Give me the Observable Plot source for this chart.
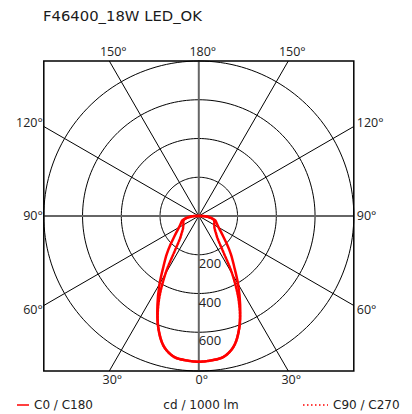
<!DOCTYPE html>
<html><head><meta charset="utf-8">
<script src="https://cdn.jsdelivr.net/npm/d3@7"></script>
<script src="https://cdn.jsdelivr.net/npm/@observablehq/plot@0.6"></script>
<style>
body{margin:0;background:#fff;}
#wrap{position:relative;width:412px;height:414px;font-family:"Open Sans",sans-serif;color:#222;}
#chart{position:absolute;left:0;top:0;}
#title{position:absolute;left:43px;top:8px;font-family:"DejaVu Sans",sans-serif;font-size:14.8px;line-height:15px;white-space:nowrap;color:#1a1a1a;}
.leg{position:absolute;top:398px;font-family:"DejaVu Sans",sans-serif;font-size:12px;line-height:14px;white-space:nowrap;display:flex;align-items:center;color:#222;}
.leg svg{margin-right:5px;}
</style></head><body>
<div id="wrap">
  <div id="chart"></div>
  <div id="title"></div>
  <div class="leg" id="leg1" style="left:17px"></div>
  <div class="leg" id="leg2" style="left:0;width:402px;justify-content:center"></div>
  <div class="leg" id="leg3" style="left:303px"></div>
</div>
<script>
// ---- data ----
const title = "F46400_18W LED_OK";
const unitLabel = "cd / 1000 lm";
const seriesNames = ["C0 / C180", "C90 / C270"];
const angles   = [0,5,10,15,20,25,30,35,40,45,50,55,60,65,70,75,80,85,90,95,100,105,110,120,130,140,150,160,170,180];
const c0c180   = [752,748,738,697,612,505,405,318,258,205,165,138,118,105,96,88,70,45,20,5,2,1,1,1,1,1,1,1,1,1];
const c90c270  = [752,748,738,697,612,490,345,210,150,125,108,98,92,88,85,80,65,42,18,5,2,1,1,1,1,1,1,1,1,1];
const rings = [200,400,600,800];
const ringLabels = [200,400,600];
const spokeAngles = [30,60,120,150];
const tickAngles = [0,30,60,90,120,150,180];
const rMax = 800;

// ---- derived geometry ----
const rad = a => a*Math.PI/180;
function shape(vals){
  const pts = [];
  angles.forEach((a,i)=>pts.push({x: vals[i]*Math.sin(rad(a)), y: -vals[i]*Math.cos(rad(a))}));
  for(let i=angles.length-2;i>0;i--){const a=angles[i]; pts.push({x: -vals[i]*Math.sin(rad(a)), y: -vals[i]*Math.cos(rad(a))});}
  return pts;
}
const ringPts = rings.flatMap(R => d3.range(0,361,2).map(d=>({ring:R, x:R*Math.sin(rad(d)), y:R*Math.cos(rad(d))})));
const toEdge = a => rMax/Math.max(Math.abs(Math.sin(rad(a))), Math.abs(Math.cos(rad(a))));
const spokes = spokeAngles.flatMap(a => [-1,1].map(s => ({x2: s*toEdge(a)*Math.sin(rad(a)), y2: -toEdge(a)*Math.cos(rad(a))})));
const labelPts = tickAngles.flatMap(a => ((a===0||a===180)?[1]:[-1,1]).map(s => {
  const t = toEdge(a);
  const edge = a<45 ? "bottom" : a>135 ? "top" : (s<0 ? "left" : "right");
  return {a, x: s*t*Math.sin(rad(a)), y: -t*Math.cos(rad(a)), text: a+"°", edge};
}));
const fs = 12.5;
const sideMarks = [];
for (const [edge, anchor, dx] of [["left","end",-1],["right","start",3]]) {
  for (const [cond, la, dy] of [[a=>a===60,"top",0],[a=>a===90,"middle",0],[a=>a===120,"bottom",0]]) {
    sideMarks.push(Plot.text(labelPts.filter(d=>d.edge===edge && cond(d.a)), {x:"x", y:"y", text:"text", textAnchor:anchor, lineAnchor:la, dx, dy, fontSize:fs, fill:"#222"}));
  }
}

const chart = Plot.plot({
  width: 412, height: 414,
  marginLeft: 43.3, marginRight: 58.7, marginTop: 60.5, marginBottom: 43.5,
  x: {domain: [-rMax, rMax], axis: null},
  y: {domain: [-rMax, rMax], axis: null},
  style: {fontFamily: "'Open Sans', sans-serif", background: "#fff", overflow: "visible"},
  marks: [
    Plot.line(ringPts, {x:"x", y:"y", z:"ring", stroke:"#000", strokeWidth:1}),
    Plot.link(spokes, {x1:0, y1:0, x2:"x2", y2:"y2", stroke:"#000", strokeWidth:1}),
    Plot.ruleX([0], {stroke:"#666", strokeWidth:2}),
    Plot.ruleY([0], {stroke:"#666", strokeWidth:2}),
    Plot.frame({stroke:"#000", strokeWidth:1.5}),
    Plot.line(shape(c90c270), {x:"x", y:"y", stroke:"#f00", strokeWidth:2.5, strokeDasharray:"2,1.2", curve:"catmull-rom-closed"}),
    Plot.line(shape(c0c180), {x:"x", y:"y", stroke:"#f00", strokeWidth:2.5, curve:"catmull-rom-closed"}),
    Plot.text(ringLabels, {x:0, y:d=>-d, text:d=>String(d), textAnchor:"start", lineAnchor:"top", dx:0, dy:4, fontSize:13, fill:"#222"}),
    Plot.text(labelPts.filter(d=>d.edge==="top"), {x:"x", y:"y", text:"text", lineAnchor:"bottom", dx:4, dy:-5, fontSize:fs, fill:"#222"}),
    Plot.text(labelPts.filter(d=>d.edge==="bottom"), {x:"x", y:"y", text:"text", lineAnchor:"top", dx:3, dy:4, fontSize:fs, fill:"#222"}),
    ...sideMarks
  ]
});
document.getElementById("chart").appendChild(chart);
document.getElementById("title").textContent = title;
document.getElementById("leg1").innerHTML = `<svg width="12" height="4"><line x1="0" y1="2" x2="12" y2="2" stroke="#f00" stroke-width="1.5"/></svg>${seriesNames[0]}`;
document.getElementById("leg2").textContent = unitLabel;
document.getElementById("leg3").innerHTML = `<svg width="25" height="4"><line x1="0" y1="2" x2="25" y2="2" stroke="#f00" stroke-width="1.5" stroke-dasharray="1.5,2.5"/></svg>${seriesNames[1]}`;
</script>
</body></html>
